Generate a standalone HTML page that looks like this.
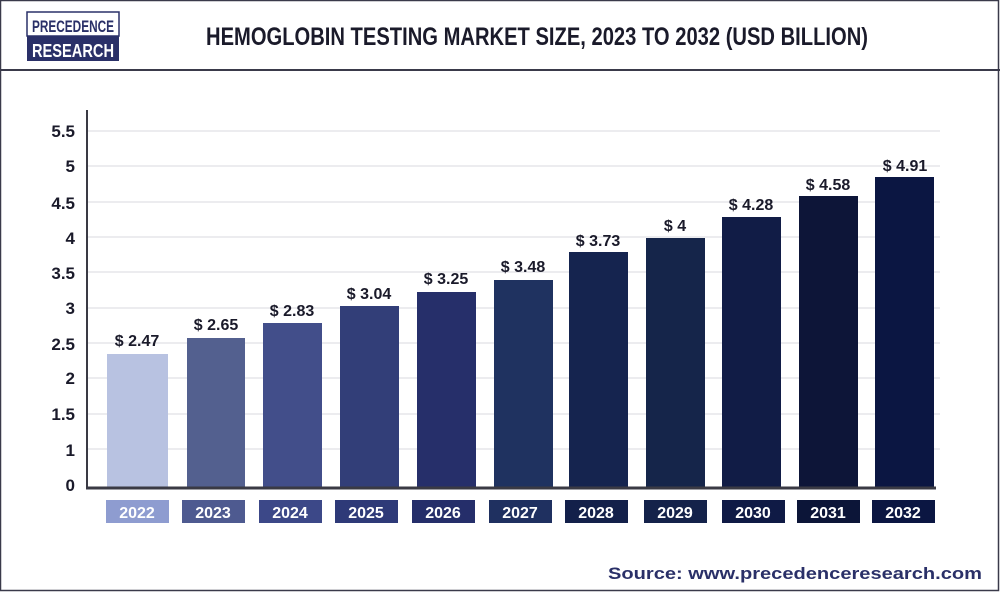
<!DOCTYPE html>
<html><head><meta charset="utf-8"><style>
html,body{margin:0;padding:0;background:#fff;}
svg{display:block;}
</style></head><body>
<svg width="1000" height="592" viewBox="0 0 1000 592" xmlns="http://www.w3.org/2000/svg" font-family="Liberation Sans, sans-serif">
<rect x="0" y="0" width="1000" height="592" fill="#fff"/>
<rect x="0.5" y="0.5" width="998" height="590" fill="none" stroke="#3a3a4a" stroke-width="1.5"/>
<line x1="0" y1="70" x2="1000" y2="70" stroke="#3a3a4a" stroke-width="2"/>
<!-- logo -->
<rect x="27" y="12" width="92" height="24" fill="#fff" stroke="#2a3068" stroke-width="1.5"/>
<rect x="27" y="36" width="92" height="25" fill="#2a3068"/>
<text x="32" y="32" font-size="17" font-weight="bold" fill="#2a3068" textLength="82" lengthAdjust="spacingAndGlyphs">PRECEDENCE</text>
<text x="32" y="57" font-size="18" font-weight="bold" fill="#fff" textLength="82" lengthAdjust="spacingAndGlyphs">RESEARCH</text>
<text x="206" y="45" font-size="25" font-weight="bold" fill="#1a1a2a" textLength="662" lengthAdjust="spacingAndGlyphs">HEMOGLOBIN TESTING MARKET SIZE, 2023 TO 2032 (USD BILLION)</text>
<!-- gridlines -->
<g stroke="#e6e6ea" stroke-width="1.5">
<line x1="88" y1="131" x2="940" y2="131"/><line x1="88" y1="166" x2="940" y2="166"/>
<line x1="88" y1="202" x2="940" y2="202"/><line x1="88" y1="237" x2="940" y2="237"/>
<line x1="88" y1="272" x2="940" y2="272"/><line x1="88" y1="308" x2="940" y2="308"/>
<line x1="88" y1="343" x2="940" y2="343"/><line x1="88" y1="378" x2="940" y2="378"/>
<line x1="88" y1="414" x2="940" y2="414"/><line x1="88" y1="449" x2="940" y2="449"/>
</g>
<g font-size="17" font-weight="bold" fill="#1a1a2a" text-anchor="end">
<text x="75" y="137">5.5</text><text x="75" y="172">5</text><text x="75" y="209">4.5</text>
<text x="75" y="244">4</text><text x="75" y="279">3.5</text><text x="75" y="314">3</text>
<text x="75" y="350">2.5</text><text x="75" y="384">2</text><text x="75" y="420">1.5</text>
<text x="75" y="456">1</text><text x="75" y="491">0</text>
</g>
<!-- bars -->
<rect x="107" y="354" width="61" height="133" fill="#b8c2e1"/>
<rect x="187" y="338" width="58" height="149" fill="#53608f"/>
<rect x="263" y="323" width="59" height="164" fill="#424e8a"/>
<rect x="340" y="306" width="59" height="181" fill="#323e78"/>
<rect x="417" y="292" width="59" height="195" fill="#262f6a"/>
<rect x="494" y="280" width="59" height="207" fill="#1f3260"/>
<rect x="569" y="252" width="59" height="235" fill="#15244f"/>
<rect x="646" y="238" width="59" height="249" fill="#15254a"/>
<rect x="722" y="217" width="59" height="270" fill="#111c46"/>
<rect x="799" y="196" width="59" height="291" fill="#0d1538"/>
<rect x="875" y="177" width="59" height="310" fill="#0b1642"/>
<line x1="87" y1="110" x2="87" y2="489" stroke="#3a3a44" stroke-width="2"/>
<line x1="86" y1="488" x2="936" y2="488" stroke="#3a3a44" stroke-width="3"/>
<!-- value labels -->
<g font-size="16" font-weight="bold" fill="#1a1a2a" text-anchor="middle">
<text x="137" y="346">$ 2.47</text><text x="216" y="330">$ 2.65</text>
<text x="292" y="316">$ 2.83</text><text x="369" y="299">$ 3.04</text>
<text x="446" y="284">$ 3.25</text><text x="523" y="272">$ 3.48</text>
<text x="598" y="246">$ 3.73</text><text x="675" y="231">$ 4</text>
<text x="751" y="210">$ 4.28</text><text x="828" y="190">$ 4.58</text>
<text x="905" y="171">$ 4.91</text>
</g>
<!-- year boxes -->
<rect x="106" y="500" width="63" height="23" fill="#8e9cd0"/>
<rect x="182" y="500" width="63" height="23" fill="#4e5a90"/>
<rect x="259" y="500" width="63" height="23" fill="#3c4888"/>
<rect x="335" y="500" width="63" height="23" fill="#2e3a78"/>
<rect x="412" y="500" width="63" height="23" fill="#252e6a"/>
<rect x="489" y="500" width="63" height="23" fill="#1f3060"/>
<rect x="565" y="500" width="63" height="23" fill="#13204a"/>
<rect x="644" y="500" width="63" height="23" fill="#14224a"/>
<rect x="722" y="500" width="63" height="23" fill="#0f1a45"/>
<rect x="797" y="500" width="63" height="23" fill="#0c1538"/>
<rect x="872" y="500" width="63" height="23" fill="#0b1642"/>
<g font-size="16" font-weight="bold" fill="#fff" text-anchor="middle">
<text x="137" y="518">2022</text><text x="213" y="518">2023</text><text x="290" y="518">2024</text>
<text x="366" y="518">2025</text><text x="443" y="518">2026</text><text x="520" y="518">2027</text>
<text x="596" y="518">2028</text><text x="675" y="518">2029</text><text x="753" y="518">2030</text>
<text x="828" y="518">2031</text><text x="903" y="518">2032</text>
</g>
<text x="608" y="579" font-size="17" font-weight="bold" fill="#2a3068" textLength="374" lengthAdjust="spacingAndGlyphs">Source: www.precedenceresearch.com</text>
</svg>
</body></html>
